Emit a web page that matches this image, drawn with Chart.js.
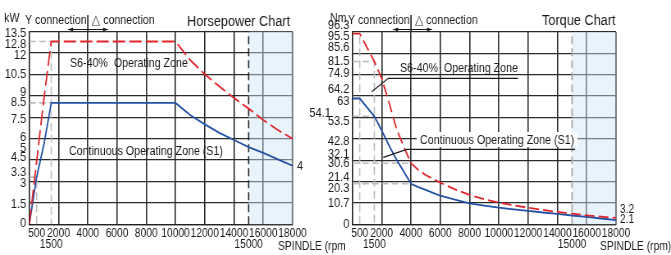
<!DOCTYPE html>
<html>
<head>
<meta charset="utf-8">
<script src="https://cdn.jsdelivr.net/npm/chart.js@4.4.1/dist/chart.umd.min.js"></script>
<style>
  html, body { margin: 0; padding: 0; background: #fff; }
  #wrap { position: relative; width: 671px; height: 255px; overflow: hidden; }
  canvas { position: absolute; top: 0; }
</style>
</head>
<body>
<div id="wrap">
  <!-- canvases are drawn wider and squeezed by CSS to get a narrow (Arial Narrow like) face -->
  <canvas id="hpChart" width="421" height="255" style="left:0;width:345px;height:255px"></canvas>
  <canvas id="tqChart" width="440" height="255" style="left:310px;width:361px;height:255px"></canvas>
</div>
<script>
const FONT = "'Liberation Sans', Arial, sans-serif";
const RED = '#e2252b';
const BLUE = '#2351a3';
const INK = '#1a1a1a';

// spindle speed axis (shared by both charts)
const rpmTicks = [500, 1500, 2000, 4000, 6000, 8000, 10000, 12000, 14000, 15000, 16000, 18000];
const rpmSecondRow = [1500, 15000];
const rpmMax = 18000;
const zoneStart = 15000;

// horsepower chart, kW
const hpRpm = [0, 500, 1000, 1500, 10000, 11000, 12000, 13000, 14000, 15000, 16000, 17000, 18000];
const hpS6 = [0, 4.4, 8.8, 12.8, 12.8, 11.5, 10.5, 9.65, 8.85, 8.1, 7.3, 6.6, 6.0];
const hpS1 = [0, 3.3, 5.6, 8.5, 8.5, 7.65, 7.0, 6.4, 5.9, 5.4, 5.0, 4.55, 4.1];
const hpGrid = [0, 1.5, 3, 4.5, 6, 7.5, 9, 10.5, 12, 13.5];
const hpLabels = [0, 1.5, 3, 3.3, 4.5, 5, 6, 7.5, 8.5, 9, 10.5, 12, 12.8, 13.5];

// torque chart, Nm
const tqRpm = [0, 500, 1500, 2000, 2500, 3000, 3500, 4000, 4500, 5000, 5500, 6000, 7000, 8000,
               9000, 10000, 11000, 12000, 13000, 14000, 15000, 16000, 17000, 18000];
const tqS6 = [95.5, 95.5, 81.5, 73, 61, 48, 39, 30.6, 27.2, 24.7, 22.7, 20.9, 17.5, 14.7,
              12.5, 10.8, 9.5, 8.3, 7.2, 6.2, 5.3, 4.5, 3.8, 3.2];
const tqS1 = [63, 63, 54.1, 47, 39.5, 32.5, 26.5, 20.3, 18.6, 17.2, 15.7, 14.3, 12.3, 10.5,
              9.3, 8.3, 7.5, 6.7, 5.9, 5.2, 4.4, 3.7, 2.9, 2.1];
const tqGrid = [0, 10.7, 21.4, 32.1, 42.8, 53.5, 64.2, 74.9, 85.6, 96.3];
const tqLabels = [0, 10.7, 20.3, 21.4, 30.6, 32.1, 42.8, 53.5, 54.1, 63, 64.2, 74.9, 81.5, 85.6, 95.5, 96.3];

// small vertical nudges (px) so crowded y labels don't sit on top of each other
const hpNudge = {'13.5': 1.5, '12.8': 3, '12': 2, '9': -3, '8.5': -1, '7.5': 2, '6': -1,
                 '5': -5, '4.5': -2.5, '3.3': -4.5, '3': 1.5, '1.5': 1, '0': -1};
const tqNudge = {'96.3': -6.5, '95.5': 2.8, '85.6': -6.5, '74.9': -1, '64.2': -6.5, '63': 2.3,
                 '54.1': -3.4, '53.5': 3.4, '42.8': 2, '32.1': -6, '21.4': -4, '20.3': 5};
const tqIndent = {'54.1': 6};

function pts(xs, ys) {
    return xs.map((x, i) => ({x, y: ys[i]}));
}

// dashed guide from the y axis to a point of a curve (and down to 0 if asked)
function dropLine(xs, ys, rpm, withVertical) {
    const v = ys[xs.indexOf(rpm)];
    const d = [{x: 0, y: v}, {x: rpm, y: v}];
    if (withVertical) d.push({x: rpm, y: 0});
    return d;
}

function guide(data) {
    return {data, borderColor: '#bdbdbd', borderWidth: 1.6, borderDash: [8, 4]};
}

function isOn(list, v) {
    return list.some(g => Math.abs(g - v) < 1e-6);
}

function yAxis(K, max, grid, labels, nudge, indent, width) {
    return {
        type: 'linear', min: 0, max,
        afterBuildTicks: s => {
            const vals = [...new Set([...grid, ...labels])].sort((a, b) => a - b);
            s.ticks = vals.map(v => ({value: v}));
        },
        afterFit: s => { s.width = width / K; },
        border: {display: true, color: '#222', width: 1.3 / K},
        grid: {
            color: c => isOn(grid, c.tick.value) ? '#2a2a2a' : 'rgba(0,0,0,0)',
            lineWidth: 1.3,
            drawTicks: false
        },
        ticks: {
            autoSkip: false,
            padding: 3 / K,
            color: INK,
            callback: v => {
                if (!isOn(labels, v)) return '';
                const text = String(v) + '\u00a0'.repeat(indent[v] || 0);
                const dy = nudge[v] || 0;
                if (!dy) return text;
                // two-line label with an empty line shifts the text by half the line height
                return dy < 0 ? [text, ''] : ['', text];
            },
            font: c => {
                const dy = c.tick ? (nudge[c.tick.value] || 0) : 0;
                return {family: FONT, size: 13.5, lineHeight: dy ? (2 * Math.abs(dy)) + 'px' : 1.2};
            }
        }
    };
}

function xAxis(K) {
    return {
        type: 'linear', min: 0, max: rpmMax,
        afterBuildTicks: s => { s.ticks = rpmTicks.map(v => ({value: v})); },
        afterFit: s => { s.height = 30.7; },
        border: {display: true, color: '#222', width: 1.3},
        grid: {
            color: c => c.tick.value % 2000 === 0 ? '#2a2a2a' : 'rgba(0,0,0,0)',
            lineWidth: 1.3 / K,
            drawTicks: false
        },
        ticks: {
            autoSkip: false,
            maxRotation: 0,
            minRotation: 0,
            padding: 4.2,
            color: INK,
            font: {family: FONT, size: 12.5, lineHeight: '11px'},
            callback: v => rpmSecondRow.includes(v) ? ['', String(v)] : String(v)
        }
    };
}

function bandPlugin() {
    return {
        id: 'zoneBand',
        beforeDatasetsDraw(chart) {
            const {ctx, chartArea: a, scales: {x}} = chart;
            const x0 = x.getPixelForValue(zoneStart);
            const x1 = x.getPixelForValue(rpmMax);
            ctx.save();
            ctx.fillStyle = 'rgba(205,228,248,0.45)';
            ctx.fillRect(x0, a.top, x1 - x0, a.bottom - a.top);
            ctx.restore();
        }
    };
}

// free annotations; x given in css px of the canvas, converted to the wide canvas with K
function notesPlugin(K, notes) {
    return {
        id: 'notes',
        afterDraw(chart) {
            const ctx = chart.ctx;
            const x = chart.scales.x;
            ctx.save();
            ctx.strokeStyle = INK;
            ctx.fillStyle = INK;
            ctx.textBaseline = 'alphabetic';
            ctx.textAlign = 'left';
            notes.forEach(n => {
                if (n.text) {
                    ctx.font = `${n.size || 13}px ${FONT}`;
                    if (n.bg) {
                        const w = ctx.measureText(n.text).width;
                        ctx.fillStyle = '#fff';
                        ctx.fillRect(n.x / K - 4, n.y - 12, w + 8, 15);
                        ctx.fillStyle = INK;
                    }
                    ctx.fillText(n.text, n.x / K, n.y);
                } else if (n.path) {
                    ctx.lineWidth = 1.2;
                    ctx.beginPath();
                    n.path.forEach(([px, py], i) => i ? ctx.lineTo(px / K, py) : ctx.moveTo(px / K, py));
                    ctx.stroke();
                } else if (n.bar) {
                    const px = x.getPixelForValue(n.bar);
                    ctx.lineWidth = 1.3 / K;
                    ctx.beginPath();
                    ctx.moveTo(px, n.y0);
                    ctx.lineTo(px, chart.chartArea.top);
                    ctx.stroke();
                } else if (n.arrow) {
                    const [a, b, y] = n.arrow.map((v, i) => i < 2 ? v / K : v);
                    ctx.lineWidth = 1;
                    ctx.beginPath();
                    ctx.moveTo(a, y); ctx.lineTo(b, y);
                    ctx.stroke();
                    [[a, 1], [b, -1]].forEach(([px, dir]) => {
                        ctx.beginPath();
                        ctx.moveTo(px, y);
                        ctx.lineTo(px + 5 / K * dir, y - 2);
                        ctx.lineTo(px + 5 / K * dir, y + 2);
                        ctx.closePath();
                        ctx.fill();
                    });
                }
            });
            ctx.restore();
        }
    };
}

const hpNotes = [
    {text: 'kW', x: 4, y: 22, size: 13},
    {text: 'Y connection', x: 25, y: 24, size: 13},
    {text: '\u25b3 connection', x: 92, y: 24, size: 13},
    {bar: 4000, y0: 15},
    {arrow: [68, 108, 29.5]},
    {text: 'Horsepower Chart', x: 187, y: 26, size: 15.5},
    {text: 'S6-40%  Operating Zone', x: 70, y: 66.5, size: 13},
    {text: 'Continuous Operating Zone (S1)', x: 69, y: 155, size: 13},
    {text: '4', x: 297, y: 170, size: 13},
    {text: 'SPINDLE (rpm)', x: 278, y: 249.5, size: 12.5}
];

const tqNotes = [
    {text: 'Nm', x: 20, y: 22, size: 13},
    {text: 'Y connection', x: 38, y: 24, size: 13},
    {text: '\u25b3 connection', x: 105, y: 24, size: 13},
    {bar: 4000, y0: 15},
    {arrow: [83, 122, 29.5]},
    {text: 'Torque Chart', x: 232, y: 25, size: 15.5},
    {text: 'S6-40%  Operating Zone', x: 90, y: 72, size: 13},
    {path: [[208, 78.3], [78.3, 78.3], [61.7, 91.7]]},
    {text: 'Continuous Operating Zone (S1)', x: 110, y: 144, size: 13, bg: true},
    {path: [[265, 149.3], [96.7, 149.3], [73.3, 157.3]]},
    {text: '3.2', x: 310, y: 213, size: 12.5},
    {text: '2.1', x: 310, y: 223, size: 12.5},
    {text: 'SPINDLE (rpm)', x: 290, y: 249.5, size: 12.5}
];

function makeChart(id, cfg) {
    const canvas = document.getElementById(id);
    const K = parseFloat(canvas.style.width) / canvas.width;
    return new Chart(canvas, {
        type: 'line',
        data: {datasets: cfg.datasets(K)},
        options: {
            responsive: false,
            animation: false,
            devicePixelRatio: 1,
            layout: {padding: {left: 0, right: cfg.right / K, top: cfg.top, bottom: 0}},
            elements: {point: {radius: 0}, line: {tension: 0, fill: false}},
            plugins: {legend: {display: false}, tooltip: {enabled: false}},
            scales: {x: xAxis(K), y: cfg.y(K)}
        },
        plugins: [bandPlugin(), notesPlugin(K, cfg.notes)]
    });
}

const hpMax = hpGrid[hpGrid.length - 1];
const tqMax = tqGrid[tqGrid.length - 1];

makeChart('hpChart', {
    right: 52.5, top: 31.5,
    y: K => yAxis(K, hpMax, hpGrid, hpLabels, hpNudge, {}, 29.3),
    notes: hpNotes,
    datasets: K => [
        {data: pts(hpRpm, hpS6), borderColor: RED, borderWidth: 1.8, borderDash: [15, 5]},
        {data: pts(hpRpm, hpS1), borderColor: BLUE, borderWidth: 1.8},
        guide(dropLine(hpRpm, hpS6, 1500, true)),
        guide(dropLine(hpRpm, hpS1, 1500, false)),
        guide(dropLine(hpRpm, hpS1, 500, true)),
        {data: [{x: zoneStart, y: 0}, {x: zoneStart, y: hpMax}], borderColor: '#222', borderWidth: 1.3 / K, borderDash: [8, 4]}
    ]
});

makeChart('tqChart', {
    right: 55, top: 32,
    y: K => yAxis(K, tqMax, tqGrid, tqLabels, tqNudge, tqIndent, 42.4),
    notes: tqNotes,
    datasets: K => [
        {data: pts(tqRpm, tqS6), borderColor: RED, borderWidth: 1.8, borderDash: [12, 5]},
        {data: pts(tqRpm, tqS1), borderColor: BLUE, borderWidth: 1.8},
        guide(dropLine(tqRpm, tqS6, 1500, true)),
        guide(dropLine(tqRpm, tqS1, 1500, false)),
        guide(dropLine(tqRpm, tqS6, 4000, false)),
        guide(dropLine(tqRpm, tqS1, 4000, false)),
        guide([{x: 500, y: 0}, {x: 500, y: tqMax}]),
        {data: [{x: zoneStart, y: 0}, {x: zoneStart, y: tqMax}], borderColor: '#a8a8a8', borderWidth: 1.5 / K, borderDash: [8, 4]}
    ]
});
</script>
</body>
</html>
